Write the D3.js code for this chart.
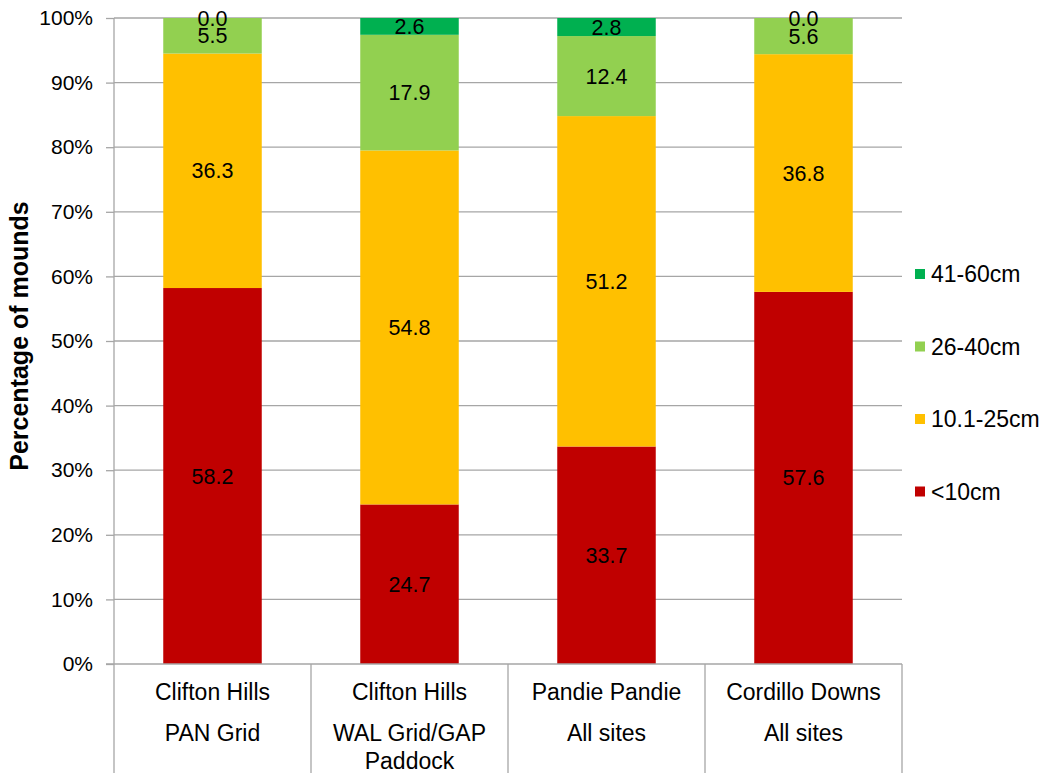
<!DOCTYPE html>
<html>
<head>
<meta charset="utf-8">
<script src="https://cdn.jsdelivr.net/npm/d3@7"></script>
<style>
  html, body { margin: 0; padding: 0; background: #fff; }
  svg text { font-family: "Liberation Sans", Arial, sans-serif; fill: #000; }
</style>
</head>
<body>
<svg id="chart" width="1043" height="773"></svg>
<script>
// Mound size classes per site (percent of mounds)
const sites = ["Clifton Hills|PAN Grid", "Clifton Hills|WAL Grid/GAP|Paddock", "Pandie Pandie|All sites", "Cordillo Downs|All sites"];
const sizeClasses = ["<10cm", "10.1-25cm", "26-40cm", "41-60cm"];
const under10 = [58.2, 24.7, 33.7, 57.6];
const from10to25 = [36.3, 54.8, 51.2, 36.8];
const from26to40 = [5.5, 17.9, 12.4, 5.6];
const from41to60 = [0.0, 2.6, 2.8, 0.0];
const classColors = ["#C00000", "#FFC000", "#92D050", "#00B050"];
const yTicks = [0, 0.1, 0.2, 0.3, 0.4, 0.5, 0.6, 0.7, 0.8, 0.9, 1.0];

const rows = sites.map((s, i) => ({
  site: s,
  "<10cm": under10[i],
  "10.1-25cm": from10to25[i],
  "26-40cm": from26to40[i],
  "41-60cm": from41to60[i]
}));

const svg = d3.select("#chart");
const margin = { left: 114, right: 141, top: 18, bottom: 109 };
const W = 1043, H = 773;
const x0 = margin.left, x1 = W - margin.right;
const y0 = H - margin.bottom, y1 = margin.top;

const x = d3.scaleBand().domain(sites).range([x0, x1]).paddingInner(0.5).paddingOuter(0.25);
const xCat = d3.scaleBand().domain(sites).range([x0, x1]);
const y = d3.scaleLinear().domain([0, 1]).range([y0, y1]);

const stack = d3.stack().keys(sizeClasses).offset(d3.stackOffsetExpand);
const series = stack(rows);

const grey = "#a6a6a6";

// horizontal gridlines
svg.append("g")
  .selectAll("line")
  .data(yTicks.slice(1))
  .join("line")
  .attr("x1", x0).attr("x2", x1)
  .attr("y1", d => y(d)).attr("y2", d => y(d))
  .attr("stroke", grey).attr("stroke-width", 1.3);

// stacked bars
const layer = svg.append("g")
  .selectAll("g")
  .data(series)
  .join("g")
  .attr("fill", (d, i) => classColors[i]);

layer.selectAll("rect")
  .data(d => d)
  .join("rect")
  .attr("x", d => x(d.data.site))
  .attr("width", x.bandwidth())
  .attr("y", d => y(d[1]))
  .attr("height", d => Math.max(0, y(d[0]) - y(d[1])));

// value labels at segment centres
layer.each(function (s) {
  d3.select(this).selectAll("text")
    .data(s.map(d => ({ d, v: d.data[s.key] })))
    .join("text")
    .attr("x", o => x(o.d.data.site) + x.bandwidth() / 2)
    .attr("y", o => (y(o.d[0]) + y(o.d[1])) / 2)
    .attr("dy", "0.35em")
    .attr("text-anchor", "middle")
    .style("font-size", "21.5px")
    .text(o => o.v.toFixed(1));
});

// y axis
const yAxis = svg.append("g")
  .attr("transform", `translate(${x0},0)`)
  .call(d3.axisLeft(y).tickValues(yTicks).tickFormat(d3.format(".0%")).tickSize(8).tickPadding(13));
yAxis.select(".domain").attr("stroke", grey).attr("stroke-width", 1.3).attr("d", `M0,${y1}V${y0}`);
yAxis.selectAll(".tick line").attr("stroke", grey).attr("stroke-width", 1.3);
yAxis.selectAll(".tick text").style("font-size", "21px").style("font-family", "Liberation Sans, Arial, sans-serif").attr("fill", "#000");

// x axis baseline and category dividers
svg.append("line")
  .attr("x1", x0 - 8).attr("x2", x1)
  .attr("y1", y0).attr("y2", y0)
  .attr("stroke", grey).attr("stroke-width", 1.3);

const dividers = sites.map(s => xCat(s)).concat([x1]);
svg.append("g")
  .selectAll("line")
  .data(dividers)
  .join("line")
  .attr("x1", d => d).attr("x2", d => d)
  .attr("y1", y0).attr("y2", H)
  .attr("stroke", grey).attr("stroke-width", 1.3);

// category labels (multi-line)
const catG = svg.append("g");
sites.forEach(s => {
  const lines = s.split("|");
  const t = catG.append("text")
    .attr("text-anchor", "middle")
    .style("font-size", "23px");
  const lineY = [692, 733, 761];
  lines.forEach((ln, i) => {
    t.append("tspan")
      .attr("x", xCat(s) + xCat.bandwidth() / 2)
      .attr("y", lineY[i])
      .attr("dy", "0.35em")
      .text(ln);
  });
});

// y axis title
svg.append("text")
  .attr("transform", `translate(19,336) rotate(-90)`)
  .attr("text-anchor", "middle")
  .attr("dy", "0.35em")
  .style("font-size", "25px")
  .style("font-weight", "bold")
  .text("Percentage of mounds");

// legend (largest class on top)
const legendOrder = sizeClasses.map((k, i) => ({ k, c: classColors[i] })).reverse();
const legend = svg.append("g");
legendOrder.forEach((o, i) => {
  const ly = 274 + i * 72.5;
  legend.append("rect")
    .attr("x", 915).attr("y", ly - 5).attr("width", 10).attr("height", 10)
    .attr("fill", o.c);
  legend.append("text")
    .attr("x", 931).attr("y", ly).attr("dy", "0.35em")
    .style("font-size", "23px")
    .text(o.k);
});
</script>
</body>
</html>
